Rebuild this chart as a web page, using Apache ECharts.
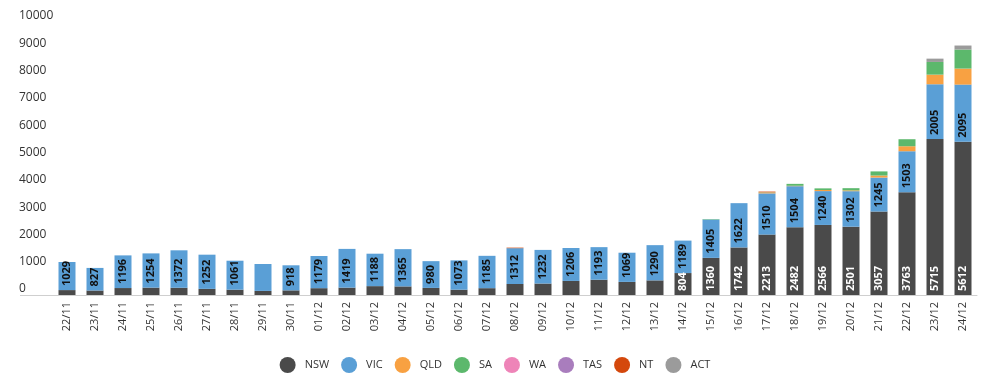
<!DOCTYPE html>
<html>
<head>
<meta charset="utf-8">
<script src="https://cdn.jsdelivr.net/npm/echarts@6/dist/echarts.min.js"></script>
<style>
html,body{margin:0;padding:0;background:#fff;}
#chart{width:990px;height:383px;}
</style>
</head>
<body>
<div id="chart"></div>
<script>
const categories = ['22/11','23/11','24/11','25/11','26/11','27/11','28/11','29/11','30/11',
  '01/12','02/12','03/12','04/12','05/12','06/12','07/12','08/12','09/12','10/12','11/12','12/12',
  '13/12','14/12','15/12','16/12','17/12','18/12','19/12','20/12','21/12','22/12','23/12','24/12'];

const NSW = [180,165,255,270,265,225,195,150,170,250,270,325,315,260,195,250,403,420,516,560,480,536,
  804,1360,1742,2213,2482,2566,2501,3057,3763,5715,5612];
const VIC = [1029,827,1196,1254,1372,1252,1061,985,918,1179,1419,1188,1365,980,1073,1185,1312,1232,1206,1193,1069,1290,
  1189,1405,1622,1510,1504,1240,1302,1245,1503,2005,2095];
const QLD = [0,0,0,0,0,0,0,0,0,0,0,0,0,0,0,0,0,0,0,0,0,0,0,0,0,30,15,40,30,75,183,352,587];
const SA  = [0,0,0,0,0,0,0,0,0,0,0,0,0,0,0,0,0,0,0,0,0,0,0,15,0,10,70,60,80,150,257,465,697];
const WA  = [0,0,0,0,0,0,0,0,0,0,0,0,0,0,0,0,0,0,0,0,0,0,0,0,0,0,0,0,0,0,0,0,0];
const TAS = [0,0,0,0,0,0,0,0,0,0,0,0,0,0,0,0,0,0,0,0,0,0,0,0,0,0,0,0,0,0,0,0,0];
const NT  = [0,0,0,0,0,0,0,0,0,0,0,0,0,0,0,0,20,0,0,0,0,0,0,0,0,25,0,0,0,0,0,0,0];
const ACT = [0,0,0,0,0,0,0,0,0,0,0,0,0,0,0,0,0,0,0,0,0,0,0,0,0,0,0,0,0,0,0,121,147];

const yTicks = [0,1000,2000,3000,4000,5000,6000,7000,8000,9000,10000];
const nswLabelFrom = '14/12';     // NSW values labelled from this date on
const vicLabelHidden = ['29/11']; // VIC values without a label

const colors = {NSW:'#4a4a4a',VIC:'#5a9fd6',QLD:'#f8a142',SA:'#5cb86c',WA:'#ee84b8',TAS:'#a97dbd',NT:'#d4480c',ACT:'#9b9b9b'};
const FONT = '"Open Sans", sans-serif';

const chart = echarts.init(document.getElementById('chart'), null, {renderer:'canvas'});

const labelBase = {
  show:true, position:'insideBottom', rotate:90, align:'left', verticalAlign:'middle',
  distance:4, fontFamily:FONT, fontSize:11, fontWeight:'bold'
};
const nswStart = categories.indexOf(nswLabelFrom);

function series(name, data, label){
  return {
    name, type:'bar', stack:'total', barWidth:17, data,
    itemStyle:{color:colors[name]},
    label: label || {show:false},
    emphasis:{disabled:true}
  };
}

chart.setOption({
  animation:false,
  textStyle:{fontFamily:FONT},
  grid:{left:53, right:13, top:22, bottom:88, containLabel:false},
  legend:{
    bottom:5, left:'center', icon:'circle', itemWidth:16, itemHeight:16, itemGap:12,
    textStyle:{fontFamily:FONT, fontSize:11, color:'#333', padding:[0,0,0,4]},
    data:['NSW','VIC','QLD','SA','WA','TAS','NT','ACT']
  },
  xAxis:{
    type:'category', data:categories,
    axisLine:{show:true, lineStyle:{color:'#cfcfcf', width:1}},
    axisTick:{show:false},
    axisLabel:{rotate:90, margin:7, fontFamily:FONT, fontSize:11, color:'#333', interval:0}
  },
  yAxis:{
    type:'value', min:yTicks[0], max:yTicks[yTicks.length-1], interval:yTicks[1]-yTicks[0],
    axisLine:{show:false}, axisTick:{show:false}, splitLine:{show:false},
    axisLabel:{align:'left', margin:34, verticalAlign:'bottom', fontFamily:FONT, fontSize:12, color:'#333',
      formatter:v => String(v)}
  },
  series:[
    series('NSW', NSW, Object.assign({}, labelBase, {
      color:'#ffffff',
      formatter:p => p.dataIndex >= nswStart ? String(p.value) : ''
    })),
    series('VIC', VIC, Object.assign({}, labelBase, {
      color:'#111111',
      formatter:p => vicLabelHidden.indexOf(p.name) >= 0 ? '' : String(p.value)
    })),
    series('QLD', QLD),
    series('SA', SA),
    series('WA', WA),
    series('TAS', TAS),
    series('NT', NT),
    series('ACT', ACT)
  ]
});

// extend the baseline to the left under the y labels, as in the reference
const p0 = chart.convertToPixel({gridIndex:0}, [0, 0]);
const gridLeft = 53;
chart.setOption({
  graphic:[{
    type:'line', silent:true,
    shape:{x1:20, y1:Math.round(p0[1])+0.5, x2:gridLeft, y2:Math.round(p0[1])+0.5},
    style:{stroke:'#cfcfcf', lineWidth:1}
  }]
});
</script>
</body>
</html>
